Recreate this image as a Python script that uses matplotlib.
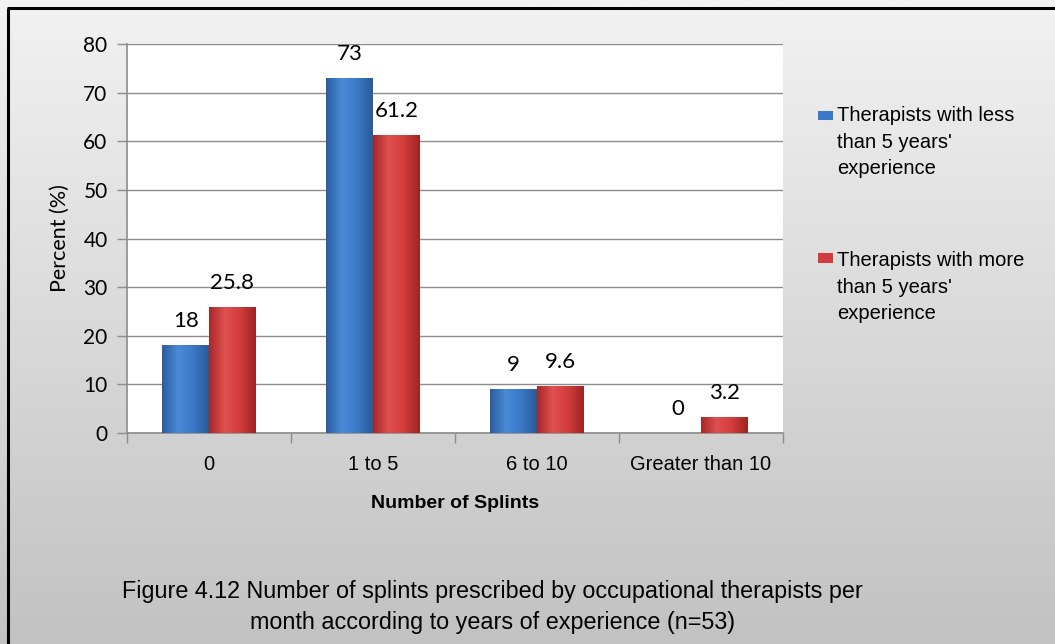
import numpy as np
import matplotlib
matplotlib.use('Agg')
import matplotlib.pyplot as plt
from matplotlib.patches import Rectangle
from matplotlib.colors import LinearSegmentedColormap

categories = ['0', '1 to 5', '6 to 10', 'Greater than 10']
less_than_5 = [18, 73, 9, 0]
more_than_5 = [25.8, 61.2, 9.6, 3.2]
less_label = "Therapists with less\nthan 5 years'\nexperience"
more_label = "Therapists with more\nthan 5 years'\nexperience"
caption = ("Figure 4.12 Number of splints prescribed by occupational therapists per\n"
           "month according to years of experience (n=53)")

fig = plt.figure(figsize=(10.55, 6.44), dpi=100)

# gradient background for the whole figure
bg = fig.add_axes([0, 0, 1, 1], zorder=-10)
grad = np.linspace(0, 1, 256).reshape(-1, 1)
bg_cmap = LinearSegmentedColormap.from_list('bg', ['#f2f2f2', '#c2c2c2'])
bg.imshow(grad, cmap=bg_cmap, aspect='auto', extent=[0, 1, 0, 1], origin='upper')
bg.set_xlim(0, 1)
bg.set_ylim(0, 1)
bg.axis('off')
# border (left + top visible)
bg.plot([0.0072, 0.0072], [0, 0.988], color='black', lw=2.2, solid_capstyle='butt')
bg.plot([0.0062, 1], [0.988, 0.988], color='black', lw=2.2, solid_capstyle='butt')

ax = fig.add_axes([0.1204, 0.3276, 0.6218, 0.6041])
ax.set_facecolor('white')

x = np.arange(len(categories))
w = 0.285
blue_bars = ax.bar(x - w / 2, less_than_5, w, color='#3a79c8', zorder=3)
red_bars = ax.bar(x + w / 2, more_than_5, w, color='#d23c3c', zorder=3)

# shade the bars like the excel bevel
blue_cmap = LinearSegmentedColormap.from_list('b', ['#2b5d9f', '#4a8ad6', '#3a79c8', '#2a5a98'])
red_cmap = LinearSegmentedColormap.from_list('r', ['#a82828', '#e05050', '#d23c3c', '#9e2424'])
hgrad = np.linspace(0, 1, 64).reshape(1, -1)
for bars, cm in [(blue_bars, blue_cmap), (red_bars, red_cmap)]:
    for p in bars:
        if p.get_height() <= 0:
            continue
        bx, by = p.get_x(), p.get_y()
        ax.imshow(hgrad, cmap=cm, aspect='auto', zorder=3.5,
                  extent=[bx, bx + p.get_width(), by, by + p.get_height()])

# data labels
for bars, vals in [(blue_bars, less_than_5), (red_bars, more_than_5)]:
    for p, v in zip(bars, vals):
        ax.annotate(f'{v:g}', (p.get_x() + p.get_width() / 2, p.get_height()),
                    xytext=(0, 17.5), textcoords='offset points',
                    ha='center', va='center', fontsize=16, family='Lato')

ax.set_xlim(-0.5, 3.5)
ax.set_ylim(0, 80)
ax.set_yticks(range(0, 81, 10))
ax.yaxis.grid(True, color='#8c8c8c', lw=1, zorder=0)
ax.set_axisbelow(True)

ax.set_xticks(x)
ax.set_xticklabels(categories, fontsize=14.5, family='Liberation Sans')
ax.set_xticks(np.arange(-0.5, 4, 1), minor=True)
ax.tick_params(axis='x', which='major', length=0, pad=16)
ax.tick_params(axis='x', which='minor', length=7, color='#8c8c8c', width=1)
ax.tick_params(axis='y', length=7, color='#8c8c8c', width=1, labelsize=15, pad=7)
for t in ax.get_yticklabels():
    t.set_family('Lato')

for s in ['top', 'right']:
    ax.spines[s].set_visible(False)
for s in ['left', 'bottom']:
    ax.spines[s].set_color('#8c8c8c')
    ax.spines[s].set_linewidth(1.2)

ax.set_ylabel('Percent (%)', fontsize=15.5, family='Lato', labelpad=10)
ax.set_xlabel('Number of Splints', fontsize=14, family='Liberation Sans',
              fontweight='bold', labelpad=15)

# legend drawn by hand so the swatch sits on the first text line
leg_items = [(blue_bars, less_label, 0.8214, 0.7795),
             (red_bars, more_label, 0.5994, 0.5543)]
for bars, label, y_first, y_mid in leg_items:
    fig.patches.append(Rectangle((0.7754, y_first - 0.0085), 0.0142, 0.0155,
                                 transform=fig.transFigure,
                                 facecolor=bars.patches[0].get_facecolor(),
                                 edgecolor='none'))
    fig.text(0.7935, y_mid, label, ha='left', va='center', fontsize=14.5,
             family='Liberation Sans', linespacing=1.47,
             transform=fig.transFigure)

fig.text(0.467, 0.058, caption, ha='center', va='center', fontsize=16.8,
         family='Liberation Sans', linespacing=1.45)

fig.savefig('out.png', dpi=100)
